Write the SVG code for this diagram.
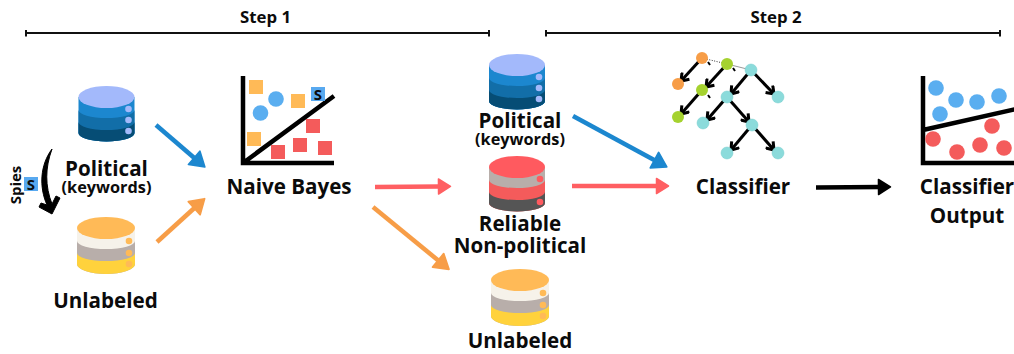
<svg xmlns="http://www.w3.org/2000/svg" width="1014" height="354" viewBox="0 0 1014 354">
<style>
text{font-family:"Open Sans","Liberation Sans",sans-serif;font-weight:700;fill:#0b0b0b;text-anchor:middle}
.l{font-size:20.6px}.k{font-size:16.3px}.st{font-size:16.8px}.s{font-size:15px}
.br{stroke:#111;stroke-width:2;fill:none}
.ax{stroke:#000;stroke-width:4.5;fill:none}
.bl{fill:#5aaef0}.re{fill:#f45b5b}.or{fill:#ffba57}
.te{fill:#8bdbdb;stroke:#7cc;stroke-width:.5}.gr{fill:#a5d22f}.oa{fill:#f79d47}
.tr{stroke:#000;stroke-width:3;fill:none}
.c{fill:none;stroke-width:4.500}
</style>
<defs>
<marker id="hb" viewBox="0 0 10 12" refX="2" refY="6" markerWidth="18" markerHeight="21" markerUnits="userSpaceOnUse" orient="auto"><path d="M1 1L9 6L1 11Z" fill="#1c87cf" stroke="#1c87cf" stroke-linejoin="round"/></marker>
<marker id="ho" viewBox="0 0 10 12" refX="2" refY="6" markerWidth="18" markerHeight="21" markerUnits="userSpaceOnUse" orient="auto"><path d="M1 1L9 6L1 11Z" fill="#f79d47" stroke="#f79d47" stroke-linejoin="round"/></marker>
<marker id="hr" viewBox="0 0 10 12" refX="2" refY="6" markerWidth="16" markerHeight="18" markerUnits="userSpaceOnUse" orient="auto"><path d="M1 1L9 6L1 11Z" fill="#ff5f62" stroke="#ff5f62" stroke-linejoin="round"/></marker>
<marker id="hk" viewBox="0 0 10 12" refX="2" refY="6" markerWidth="16" markerHeight="18" markerUnits="userSpaceOnUse" orient="auto"><path d="M1 1L9 6L1 11Z" fill="#000" stroke="#000" stroke-linejoin="round"/></marker>
<marker id="ht" viewBox="0 0 12 12" refX="10" refY="6" markerWidth="12" markerHeight="12" markerUnits="userSpaceOnUse" orient="auto"><path d="M3 1L10 6L3 11" fill="none" stroke="#000" stroke-width="3"/></marker>
<g id="dbBlue">
<path d="M-28 0V36A28 8.500 0 0 0 28 36V0Z" fill="#1c87cf"/>
<path d="M-28 13A28 8 0 0 0 28 13V36A28 8.500 0 0 1 -28 36Z" fill="#126ea8"/>
<path d="M-28 25A28 8 0 0 0 28 25V36A28 8.500 0 0 1 -28 36Z" fill="#064d75"/>
<ellipse rx="28" ry="11" fill="#a3b9fb"/>
<g fill="#a3b9fb"><circle cx="22" cy="12" r="3.300"/><circle cx="22" cy="23" r="3.300"/><circle cx="22" cy="34" r="3.300"/></g>
</g>
<g id="dbRed">
<path d="M-28 0V36A28 8.500 0 0 0 28 36V0Z" fill="#b8aeaa"/>
<path d="M-28 13A28 8 0 0 0 28 13V36A28 8.500 0 0 1 -28 36Z" fill="#f45b5b"/>
<path d="M-28 25A28 8 0 0 0 28 25V36A28 8.500 0 0 1 -28 36Z" fill="#555"/>
<ellipse rx="28" ry="11" fill="#ff5a5f"/>
<g fill="#ff5a5f"><circle cx="23" cy="12" r="3.300"/><circle cx="23" cy="35" r="3.300"/></g>
</g>
<g id="dbYel">
<path d="M-29 0V36A29 10 0 0 0 29 36V0Z" fill="#f6f2ea"/>
<path d="M-29 13A29 8 0 0 0 29 13V36A29 10 0 0 1 -29 36Z" fill="#b8aeaa"/>
<path d="M-29 25A29 8 0 0 0 29 25V36A29 10 0 0 1 -29 36Z" fill="#ffd23c"/>
<ellipse rx="29" ry="11" fill="#ffba57"/>
<g fill="#ffba57"><circle cx="23" cy="13" r="3.300"/><circle cx="23" cy="25" r="3.300"/><circle cx="23" cy="36" r="3.300"/></g>
</g>
</defs>
<rect width="1014" height="354" fill="#fff"/>

<g id="step1"><path class="br" d="M26 33H489M26 30V36.500M489 30V36.500"/><text class="st" x="265.500" y="23">Step 1</text></g>
<g id="step2"><path class="br" d="M546 33H1000M546 30V36.500M1000 30V36.500"/><text class="st" x="776" y="23">Step 2</text></g>

<g id="connectors">
<path class="c" stroke="#1c87cf" d="M156 125L195.500 159" marker-end="url(#hb)"/>
<path class="c" stroke="#f79d47" d="M157 242L195.500 207" marker-end="url(#ho)"/>
<path class="c" stroke="#ff5f62" d="M375 187L440 186.500" marker-end="url(#hr)"/>
<path class="c" stroke="#f79d47" d="M373 207L439.500 261.500" marker-end="url(#ho)"/>
<path class="c" stroke="#1c87cf" d="M573 116L656 161" marker-end="url(#hb)"/>
<path class="c" stroke="#ff5f62" d="M572 186H658" marker-end="url(#hr)"/>
<path class="c" stroke="#000" d="M816 187.500L880 187" marker-end="url(#hk)"/>
<path fill="#000" stroke="#000" stroke-width="1" stroke-linejoin="round" d="M52 149C40 165 39 187 47 205L41 203L39 207L52 214L60 198L56 196L52 204C45 186 45 168 52 149Z"/>
</g>

<g id="political-1"><use href="#dbBlue" x="106.500" y="97"/><text class="l" x="106.500" y="176">Political</text><text class="k" x="106.500" y="193">(keywords)</text></g>
<g id="spies"><text class="s" transform="translate(21 185) rotate(-90)">Spies</text><rect x="24" y="177" width="14" height="14" fill="#58a9f0"/><text class="s" x="31" y="190">S</text></g>
<g id="unlabeled-1"><use href="#dbYel" x="106" y="228"/><text class="l" x="105.500" y="308">Unlabeled</text></g>

<g id="naive-bayes">
<path class="ax" d="M243 76V163H334M243 163L334 96"/>
<rect class="or" x="249" y="80" width="14" height="14"/>
<rect class="or" x="291" y="94" width="14" height="14"/>
<rect class="or" x="247" y="132" width="14" height="14"/>
<rect x="311" y="87" width="14" height="14" fill="#58a9f0"/><text class="s" x="318" y="100">S</text>
<rect class="re" x="306" y="119" width="14" height="14"/>
<rect class="re" x="271" y="145" width="14" height="14"/>
<rect class="re" x="293" y="138" width="14" height="14"/>
<rect class="re" x="318" y="141" width="14" height="14"/>
<circle class="bl" cx="276" cy="99" r="7.800"/><circle class="bl" cx="260.500" cy="113" r="7.800"/>
<text class="l" x="289" y="194">Naive Bayes</text>
</g>

<g id="political-2"><use href="#dbBlue" x="517" y="65"/><text class="l" x="520" y="128">Political</text><text class="k" x="520" y="145">(keywords)</text></g>
<g id="reliable"><use href="#dbRed" x="517" y="167"/><text class="l" x="520" y="231">Reliable</text><text class="l" x="520" y="253">Non-political</text></g>
<g id="unlabeled-2"><use href="#dbYel" x="520" y="280"/><text class="l" x="520" y="348">Unlabeled</text></g>

<g id="classifier">
<path d="M702 58L727 64" stroke="#333" stroke-width="1" stroke-dasharray="1 1.500" fill="none"/>
<path d="M727 64L751 70" stroke="#999" stroke-width="1" fill="none"/>
<g class="tr">
<path marker-end="url(#ht)" d="M702 58L681 81"/>
<path marker-end="url(#ht)" d="M727 64L706 87"/>
<path marker-end="url(#ht)" d="M702 90L681 114"/>
<path marker-end="url(#ht)" d="M751 70L731 94"/>
<path marker-end="url(#ht)" d="M751 70L774 94"/>
<path marker-end="url(#ht)" d="M727 97L707 120"/>
<path marker-end="url(#ht)" d="M727 97L749 122"/>
<path marker-end="url(#ht)" d="M752 125L731 150"/>
<path marker-end="url(#ht)" d="M752 125L774 150"/>
<path d="M708 62L710 65M733 68L735 71M708 95L710 98" stroke-width="2"/>
</g>
<circle class="oa" cx="702" cy="58" r="6"/><circle class="oa" cx="678" cy="84" r="6"/>
<circle class="gr" cx="727" cy="64" r="6"/><circle class="gr" cx="702" cy="90" r="6"/><circle class="gr" cx="678" cy="117" r="6"/>
<circle class="te" cx="751" cy="70" r="6"/><circle class="te" cx="727" cy="97" r="6"/><circle class="te" cx="778" cy="97" r="6"/>
<circle class="te" cx="703" cy="123" r="6"/><circle class="te" cx="752" cy="125" r="6"/><circle class="te" cx="727" cy="153" r="6"/><circle class="te" cx="778" cy="153" r="6"/>
<text class="l" x="743" y="194">Classifier</text>
</g>

<g id="classifier-output">
<path class="ax" d="M923 76V163H1016M923 130L1016 109"/>
<g class="bl"><circle cx="936" cy="88" r="7.800"/><circle cx="956" cy="100" r="7.800"/><circle cx="977" cy="102" r="7.800"/><circle cx="999" cy="96" r="7.800"/><circle cx="940" cy="114" r="7.800"/></g>
<g class="re"><circle cx="933" cy="139" r="7.800"/><circle cx="957" cy="152" r="7.800"/><circle cx="980" cy="145" r="7.800"/><circle cx="1004" cy="148" r="7.800"/><circle cx="992" cy="126" r="7.800"/></g>
<text class="l" x="967" y="194">Classifier</text><text class="l" x="967" y="223">Output</text>
</g>
</svg>
